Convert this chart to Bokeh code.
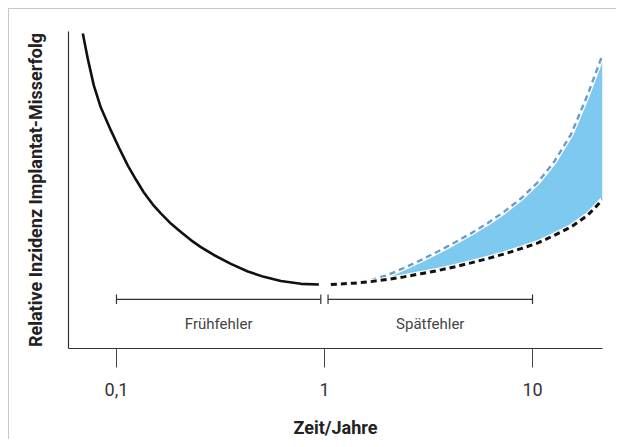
import math
from bokeh.plotting import figure
from bokeh.models import FixedTicker, Range1d, ColumnDataSource
from bokeh.core.properties import value
from bokeh.embed import file_html
from bokeh.resources import INLINE

# ---- data ----
# early failures: solid curve
early_t = [0.0689, 0.0729, 0.0778, 0.0841, 0.0940, 0.1027, 0.1134, 0.1240, 0.1354, 0.1496,
           0.1634, 0.1826, 0.2040, 0.2278, 0.2545, 0.2939, 0.3548, 0.4282, 0.5112, 0.6172,
           0.7701, 0.9399]
early_y = [99.4, 91.2, 83.0, 76.0, 68.8, 63.4, 57.7, 53.3, 49.2, 45.4,
           42.6, 39.4, 36.75, 34.2, 32.0, 29.5, 26.7, 24.3, 22.6, 21.3,
           20.4, 20.2]

# late failures: lower (black dashed) and upper (blue dashed) bound
late_t = [1.073, 1.384, 1.672, 2.018, 2.408, 2.908, 3.510, 4.190, 5.056, 6.105,
          7.288, 8.796, 10.62, 12.67, 15.30, 18.47, 21.68]
late_low = [20.2, 20.6, 21.1, 21.8, 22.6, 23.6, 24.6, 25.7, 27.0, 28.4,
            29.8, 31.5, 33.3, 35.65, 38.3, 42.1, 46.9]
late_high = [20.2, 20.7, 21.6, 23.2, 25.4, 27.9, 30.6, 33.3, 36.3, 39.6,
             43.1, 47.3, 52.5, 58.8, 67.5, 80.3, 92.6]

# phase ranges
phase_names = ["Frühfehler", "Spätfehler"]
phase_start = [0.1, 1.04]
phase_end = [0.96, 10.0]
phase_level = 15.5
phase_label_level = 7.6

x_ticks = [0.1, 1, 10]
x_tick_labels = {0.1: "0,1", 1: "1", 10: "10"}

FONT = "Roboto"

p = figure(width=608, height=431, x_axis_type="log",
           x_range=Range1d(0.0588, 21.7), y_range=Range1d(0, 100),
           output_backend="svg", toolbar_location=None,
           min_border_left=59, min_border_right=15, min_border_top=22, min_border_bottom=92)
p.styles = {"margin-left": "8px", "margin-top": "8px",
            "border-left": "1px solid #c8c8c8", "border-top": "1px solid #c8c8c8"}
p.outline_line_color = None
p.xgrid.visible = False
p.ygrid.visible = False
p.background_fill_color = "white"

# shaded band between bounds
p.varea(x=late_t, y1=late_low, y2=late_high, fill_color="#7ec9ef", fill_alpha=1.0)

# early curve
p.line(early_t, early_y, line_color="#111111", line_width=2.6, line_join="round")

# white halos + dashed bounds
p.line(late_t, late_high, line_color="white", line_width=5)
p.line(late_t, late_high, line_color="#6a9ccc", line_width=2.4, line_dash="6 4")
p.line(late_t, late_low, line_color="white", line_width=5.5)
p.line(late_t, late_low, line_color="#111111", line_width=3, line_dash="6 4")

# phase range bars
for s, e in zip(phase_start, phase_end):
    p.line([s, e], [phase_level, phase_level], line_color="#333333", line_width=1.2)
p.segment(x0=phase_start + phase_end, y0=[phase_level - 1.5] * 4,
          x1=phase_start + phase_end, y1=[phase_level + 1.5] * 4,
          line_color="#333333", line_width=1.2)

centers = [math.sqrt(s * e) for s, e in zip(phase_start, phase_end)]
src = ColumnDataSource(dict(x=centers, y=[phase_label_level] * 2, t=phase_names))
p.text(x="x", y="y", text="t", source=src, text_align="center", text_baseline="middle",
       text_font=value(FONT), text_font_size="15px", text_color="#444444")

# x axis
xa = p.xaxis[0]
xa.ticker = FixedTicker(ticks=x_ticks)
xa.minor_tick_line_color = None
xa.major_label_overrides = x_tick_labels
xa.major_tick_in = 0
xa.major_tick_out = 19
xa.major_tick_line_color = "#444444"
xa.axis_line_color = "#333333"
xa.axis_line_width = 1.2
xa.major_label_standoff = 15
xa.major_label_text_font = FONT
xa.major_label_text_font_size = "18px"
xa.major_label_text_color = "#333333"
xa.axis_label = "Zeit/Jahre"
xa.axis_label_text_font = FONT
xa.axis_label_text_font_size = "18px"
xa.axis_label_text_font_style = "bold"
xa.axis_label_text_color = "#222222"
xa.axis_label_standoff = 18

# y axis
ya = p.yaxis[0]
ya.ticker = FixedTicker(ticks=[])
ya.minor_tick_line_color = None
ya.major_tick_line_color = None
ya.axis_line_color = "#333333"
ya.axis_line_width = 1.2
ya.axis_label = "Relative Inzidenz Implantat-Misserfolg"
ya.axis_label_text_font = FONT
ya.axis_label_text_font_size = "18px"
ya.axis_label_text_font_style = "bold"
ya.axis_label_text_color = "#222222"
ya.axis_label_standoff = 23

open("out.html", "w").write(file_html(p, INLINE))
